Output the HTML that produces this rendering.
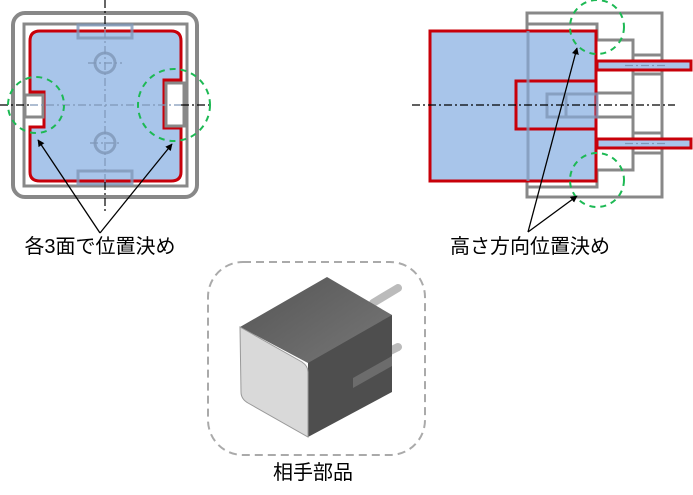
<!DOCTYPE html>
<html><head><meta charset="utf-8"><style>
html,body{margin:0;padding:0;background:#fff;}
svg{display:block;}
text{font-family:"Liberation Sans","Noto Sans CJK JP",sans-serif;font-size:20px;fill:#000;}
</style></head><body>
<svg width="693" height="495" viewBox="0 0 693 495" xmlns="http://www.w3.org/2000/svg">
<defs>
<marker id="ah" viewBox="0 0 10 10" refX="9" refY="5" markerWidth="7" markerHeight="7" orient="auto-start-reverse" markerUnits="userSpaceOnUse"><path d="M0,0 L10,5 L0,10 z" fill="#000"/></marker>
<linearGradient id="tg" x1="0" y1="0" x2="1" y2="1"><stop offset="0" stop-color="#555"/><stop offset="1" stop-color="#7a7a7a"/></linearGradient>
</defs>
<!-- LEFT VIEW -->
<rect x="13" y="13" width="184" height="184" rx="12" fill="none" stroke="#888" stroke-width="4"/>
<rect x="24" y="24" width="163" height="162" fill="none" stroke="#888" stroke-width="3"/>
<path d="M40,31 H171 Q181,31 181,41 V80 H164 V128 H181 V172 Q181,181 171,181 H40 Q30,181 30,172 V127 H44 V92 H30 V41 Q30,31 40,31 Z" fill="#a8c5ea" stroke="#c8000a" stroke-width="3"/>
<rect x="25" y="95" width="18" height="22" fill="#fff" stroke="#888" stroke-width="3"/>
<rect x="166" y="83" width="18" height="43" fill="#fff" stroke="#888" stroke-width="3"/>
<g stroke="#7f97b8" stroke-width="3" fill="none" opacity="0.8">
<rect x="78" y="25" width="54" height="13"/>
<rect x="78" y="171" width="54" height="13"/>
<circle cx="105" cy="63" r="10"/>
<circle cx="105" cy="143" r="10"/>
</g>
<g stroke="#7f97b8" stroke-width="1.2" stroke-dasharray="8,3,2,3">
<line x1="88" y1="63" x2="122" y2="63"/><line x1="90" y1="143" x2="122" y2="143"/>
<line x1="30" y1="105" x2="181" y2="105"/>
<line x1="105" y1="30" x2="105" y2="182"/>
</g>
<g stroke="#000" stroke-width="1.2" stroke-dasharray="8,3,2,3">
<line x1="0" y1="105" x2="30" y2="105"/><line x1="181" y1="105" x2="212" y2="105"/>
<line x1="105" y1="0" x2="105" y2="30"/><line x1="105" y1="182" x2="105" y2="212"/>
</g>
<g stroke="#1db954" stroke-width="2" stroke-dasharray="6,5" fill="none">
<circle cx="36" cy="105" r="28"/>
<circle cx="174" cy="105" r="36"/>
</g>
<g stroke="#000" stroke-width="1.3" fill="none">
<line x1="100" y1="233" x2="38" y2="140" marker-end="url(#ah)"/>
<line x1="100" y1="233" x2="172" y2="144" marker-end="url(#ah)"/>
</g>
<text x="100" y="253" text-anchor="middle">各3面で位置決め</text>
<!-- RIGHT VIEW -->
<g fill="none" stroke="#888" stroke-width="3">
<rect x="527" y="13" width="135" height="184"/>
<path d="M528,24 H597 V40 H633 V170 H597 V187 H528"/>
<path d="M633,55 H661 M633,74 H661 M633,133 H661 M633,153 H661"/>
<path d="M597,93 H633 M597,117 H633"/>
</g>
<rect x="430" y="31" width="166" height="150" fill="#a8c5ea" stroke="#c8000a" stroke-width="3"/>
<rect x="516" y="81" width="80" height="48" fill="#a8c5ea" stroke="#c8000a" stroke-width="3"/>
<g fill="none" stroke="#7f97b8" stroke-width="3" opacity="0.8">
<rect x="547" y="94" width="50" height="23"/>
<line x1="566" y1="94" x2="566" y2="117"/>
<line x1="528" y1="31" x2="528" y2="181"/>
</g>
<rect x="597" y="61" width="94" height="9" fill="#a8c5ea" stroke="#c8000a" stroke-width="3"/>
<rect x="597" y="139" width="94" height="9" fill="#a8c5ea" stroke="#c8000a" stroke-width="3"/>
<g stroke="#7f97b8" stroke-width="1.2" stroke-dasharray="8,3,2,3">
<line x1="625" y1="65.5" x2="668" y2="65.5"/><line x1="625" y1="143.5" x2="668" y2="143.5"/>
</g>
<line x1="412" y1="105" x2="675" y2="105" stroke="#000" stroke-width="1.2" stroke-dasharray="8,3,2,3"/>
<g stroke="#1db954" stroke-width="2" stroke-dasharray="6,5" fill="none">
<circle cx="597" cy="27" r="27"/>
<circle cx="597" cy="180" r="27"/>
</g>
<g stroke="#000" stroke-width="1.3" fill="none">
<line x1="528" y1="232" x2="577" y2="48" marker-end="url(#ah)"/>
<line x1="528" y1="232" x2="577" y2="196" marker-end="url(#ah)"/>
</g>
<text x="530" y="253" text-anchor="middle">高さ方向位置決め</text>
<!-- BOTTOM -->
<rect x="208" y="262" width="217" height="193" rx="35" fill="none" stroke="#aaa" stroke-width="2" stroke-dasharray="8,5"/>
<line x1="373" y1="303" x2="398" y2="288" stroke="#bbb" stroke-width="8" stroke-linecap="round"/>
<line x1="388" y1="352" x2="398" y2="347" stroke="#bbb" stroke-width="8" stroke-linecap="round"/>
<polygon points="240,327 327,277 392,315 392,330 308,378 308,363" fill="url(#tg)"/>
<polygon points="308,363 392,315 392,392 308,437" fill="#4e4e4e"/>
<polygon points="353,378 392,356 392,366 353,388" fill="#6c6c6c"/>
<path d="M240,327 L302,362 Q308,366 308,372 V437 L248,403 Q241,399 241,392 Z" fill="#d9d9d9" stroke="#999" stroke-width="1"/>
<text x="313" y="479" text-anchor="middle">相手部品</text>
</svg>
</body></html>
